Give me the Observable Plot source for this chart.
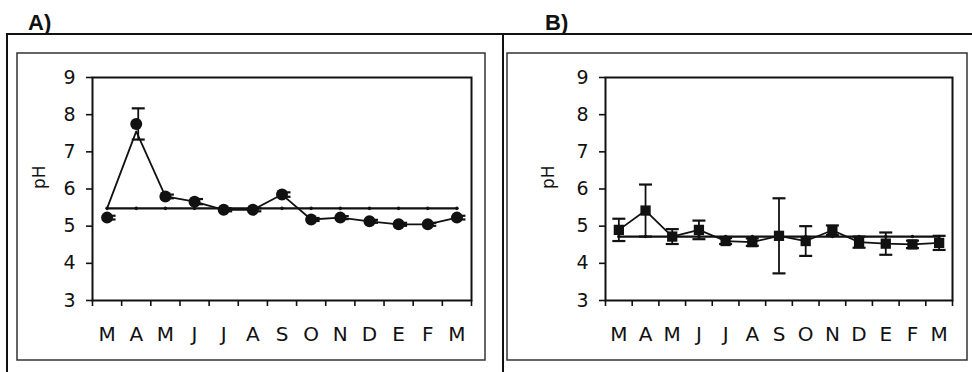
<!DOCTYPE html>
<html>
<head>
<meta charset="utf-8">
<script src="https://cdn.jsdelivr.net/npm/d3@7"></script>
<script src="https://cdn.jsdelivr.net/npm/@observablehq/plot@0.6"></script>
<style>
  html, body { margin: 0; padding: 0; background: #fff; }
  #page { position: relative; width: 972px; height: 372px; overflow: hidden; background: #fff; }
  #page svg { position: absolute; }
</style>
</head>
<body>
<div id="page"></div>
<script>
// Monthly sampling sequence (March to March)
const months = ["M", "A", "M", "J", "J", "A", "S", "O", "N", "D", "E", "F", "M"];
const yTicks = [3, 4, 5, 6, 7, 8, 9];

// Panel A: monthly mean pH, standard error, connecting trace and overall level
const meanA  = [5.23, 7.75, 5.80, 5.66, 5.44, 5.44, 5.85, 5.18, 5.23, 5.13, 5.05, 5.05, 5.23];
const errA   = [0.05, 0.42, 0.05, 0.07, 0.04, 0.04, 0.06, 0.04, 0.04, 0.04, 0.04, 0.04, 0.05];
const traceA = [5.48, 7.55, 5.80, 5.66, 5.44, 5.44, 5.85, 5.18, 5.23, 5.13, 5.05, 5.05, 5.23];
const levelA = 5.48;

// Panel B
const meanB  = [4.90, 5.42, 4.72, 4.90, 4.60, 4.57, 4.74, 4.60, 4.89, 4.57, 4.53, 4.51, 4.55];
const errB   = [0.30, 0.70, 0.20, 0.25, 0.08, 0.10, 1.01, 0.40, 0.13, 0.15, 0.30, 0.10, 0.19];
const traceB = meanB;
const levelB = 4.72;

const ink = "#111";
const font = "DejaVu Sans, sans-serif";

// horizontal cap for error bars, half-width equal to r
const capSymbol = {
  draw(context, size) {
    const w = Math.sqrt(size / Math.PI);
    context.moveTo(-w, 0);
    context.lineTo(w, 0);
  }
};

function table(mean, err, trace, level) {
  return months.map((m, i) => ({
    x: i + 0.5,
    month: m,
    mean: mean[i],
    lo: mean[i] - err[i],
    hi: mean[i] + err[i],
    trace: trace[i],
    level
  }));
}

function panel({data, symbol, markerR, width, marginLeft, marginRight, left, top, capDx, labelDx}) {
  const svg = Plot.plot({
    width,
    height: 307,
    marginLeft,
    marginRight,
    marginTop: 24,
    marginBottom: 60,
    x: {domain: [0, 13], axis: null},
    y: {domain: [3, 9], axis: null},
    style: {fontFamily: font, color: ink, background: "transparent", overflow: "visible"},
    marks: [
      Plot.frame({stroke: ink, strokeWidth: 2}),
      Plot.axisY(yTicks, {tickSize: 6, tickPadding: 11, fontSize: 19, label: null, stroke: ink, strokeWidth: 1.6}),
      Plot.axisX(d3.range(14), {tickSize: 6, tickFormat: () => "", label: null, stroke: ink, strokeWidth: 1.6}),
      Plot.axisX(data.map(d => d.x), {tickSize: 0, tickPadding: 26, fontSize: 20, label: null,
        tickFormat: d => months[Math.floor(d)]}),
      Plot.text(["pH"], {frameAnchor: "left", rotate: -90, dx: labelDx, fontSize: 17, fill: ink}),
      // overall level with small markers
      Plot.line(data, {x: "x", y: "level", stroke: ink, strokeWidth: 2.2}),
      Plot.dot(data, {x: "x", y: "level", r: 1.8, fill: ink}),
      // monthly trace
      Plot.line(data, {x: "x", y: "trace", stroke: ink, strokeWidth: 1.8}),
      // error bars
      Plot.ruleX(data, {x: "x", y1: "lo", y2: "hi", stroke: ink, strokeWidth: 1.8, dx: capDx}),
      Plot.dot(data, {x: "x", y: "hi", symbol: capSymbol, r: 6.5, stroke: ink, strokeWidth: 2.2, fill: "none", dx: capDx}),
      Plot.dot(data, {x: "x", y: "lo", symbol: capSymbol, r: 6.5, stroke: ink, strokeWidth: 2.2, fill: "none", dx: capDx}),
      // monthly means
      Plot.dot(data, {x: "x", y: "mean", symbol, r: markerR, fill: ink, stroke: "none"})
    ]
  });
  svg.style.left = left + "px";
  svg.style.top = top + "px";
  return svg;
}

const page = document.getElementById("page");

// frames and panel titles
const deco = d3.select(page).append("svg")
  .attr("width", 972).attr("height", 372)
  .style("left", "0px").style("top", "0px");
deco.append("line").attr("x1", 7).attr("x2", 972).attr("y1", 34).attr("y2", 34)
  .attr("stroke", ink).attr("stroke-width", 2);
deco.append("line").attr("x1", 7).attr("x2", 7).attr("y1", 33).attr("y2", 372)
  .attr("stroke", ink).attr("stroke-width", 2);
deco.append("line").attr("x1", 503).attr("x2", 503).attr("y1", 33).attr("y2", 372)
  .attr("stroke", ink).attr("stroke-width", 2);
deco.append("rect").attr("x", 17).attr("y", 53).attr("width", 468).attr("height", 307)
  .attr("fill", "none").attr("stroke", "#333").attr("stroke-width", 1.5);
deco.append("rect").attr("x", 507).attr("y", 53).attr("width", 460).attr("height", 307)
  .attr("fill", "none").attr("stroke", "#333").attr("stroke-width", 1.5);
deco.append("text").attr("x", 28).attr("y", 30).text("A)")
  .attr("font-family", "Liberation Sans, Arial, sans-serif").attr("font-weight", "bold")
  .attr("font-size", 22).attr("fill", ink);
deco.append("text").attr("x", 545).attr("y", 30).text("B)")
  .attr("font-family", "Liberation Sans, Arial, sans-serif").attr("font-weight", "bold")
  .attr("font-size", 22).attr("fill", ink);

page.appendChild(panel({
  data: table(meanA, errA, traceA, levelA),
  symbol: "circle", markerR: 6,
  width: 468, marginLeft: 75, marginRight: 14, left: 17, top: 53, capDx: 2, labelDx: -53
}));
page.appendChild(panel({
  data: table(meanB, errB, traceB, levelB),
  symbol: "square", markerR: 5.8,
  width: 460, marginLeft: 98, marginRight: 15, left: 507, top: 53, capDx: 0, labelDx: -57
}));
</script>
</body>
</html>
